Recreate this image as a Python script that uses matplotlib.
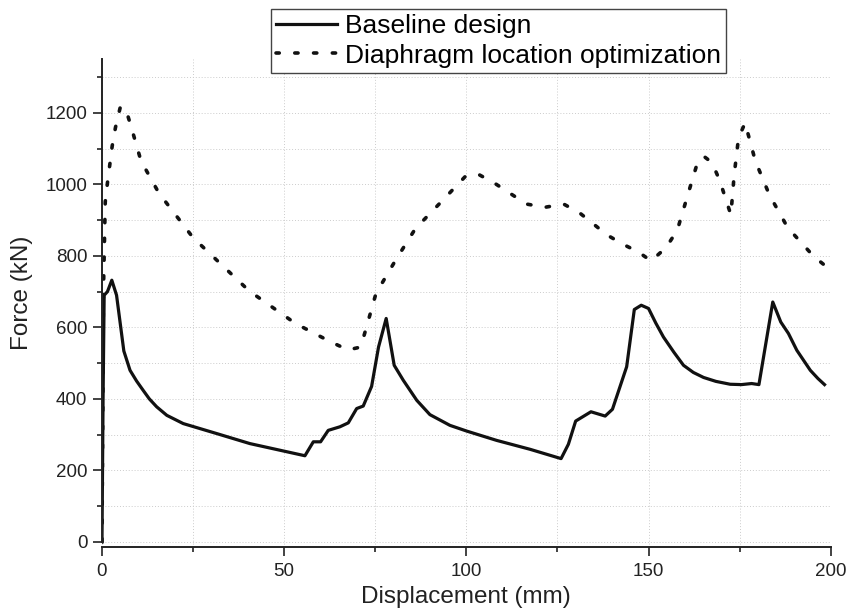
import matplotlib
matplotlib.use("Agg")
import matplotlib.pyplot as plt
from matplotlib.ticker import MultipleLocator

plt.rcParams['font.family'] = ['Liberation Sans', 'DejaVu Sans']

# Baseline design (solid)
base_x = [0, 0.3, 0.6, 1.5, 2.7, 4.0, 6.0, 7.7, 9.5, 11.3, 13.0, 15.0, 17.8, 22.3, 31.5, 40.6,
          55.7, 58.0, 60.0, 62.1, 65.3, 67.6, 69.9, 71.7, 74.0, 75.9, 78.0, 80.2,
          82.7, 86.4, 90.0, 95.5, 100.1, 108.3, 117.5, 126.0, 128.0, 130.0, 134.2,
          138.1, 140.1, 144.0, 146.1, 148.0, 150.0, 152.0, 154.1, 157.0, 159.6, 162.3,
          165.1, 168.5, 172.4, 175.5, 178.3, 180.3, 184.1, 186.3, 188.4, 190.7,
          194.4, 196.5, 198.3]
base_y = [0, 400, 690, 700, 732, 690, 534, 480, 450, 424, 400, 378, 354, 331, 303, 275,
          241, 280, 280, 312, 322, 333, 373, 380, 435, 545, 625, 494,
          452, 396, 356, 326, 310, 284, 259, 233, 273, 338, 364,
          352, 371, 490, 650, 662, 653, 612, 573, 530, 494, 474,
          460, 449, 441, 440, 443, 440, 671, 615, 583, 536,
          480, 457, 440]

# Diaphragm location optimization (dotted)
opt_x = [0, 0.4, 0.6, 0.9, 1.5, 2.8, 3.7, 5.0, 6.4, 7.9, 10.7, 15.6, 25.0, 40.4,
         53.1, 62.3, 67.5, 71.0, 72.4, 75.2, 80.7, 86.0, 92.8, 99.6, 103.0, 108.1,
         116.5, 121.6, 126.7, 131.0, 138.7, 143.1, 147.2, 150.7, 154.8, 157.9,
         160.9, 163.7, 165.5, 167.4, 169.5, 172.6, 173.5, 174.7, 176.5, 179.3,
         183.2, 188.2, 195.3, 200.0]
opt_y = [0, 700, 800, 951, 1004, 1107, 1159, 1215, 1215, 1165, 1066, 976, 851, 702,
         611, 562, 537, 545, 594, 695, 790, 876, 948, 1021, 1030, 1001,
         945, 936, 945, 921, 858, 832, 811, 786, 823, 872,
         975, 1070, 1076, 1061, 1012, 915, 1026, 1130, 1172, 1066,
         970, 879, 799, 760]

fig = plt.figure(figsize=(8.62, 6.11), dpi=100)
ax = fig.add_axes([0.1183, 0.1043, 0.8454, 0.7987])

ax.plot(base_x, base_y, color='#111111', lw=2.3, label='Baseline design')
ax.plot(opt_x, opt_y, color='#111111', lw=2.6, linestyle=(0, (0.9, 4.3)),
        dash_capstyle='round', label='Diaphragm location optimization')

ax.set_xlim(0, 200)
ax.set_ylim(-15, 1350)
ax.xaxis.set_major_locator(MultipleLocator(50))
ax.xaxis.set_minor_locator(MultipleLocator(25))
ax.yaxis.set_major_locator(MultipleLocator(200))
ax.yaxis.set_minor_locator(MultipleLocator(100))
ax.set_yticks([0, 200, 400, 600, 800, 1000, 1200])

ax.spines['top'].set_visible(False)
ax.spines['right'].set_visible(False)
ax.spines['left'].set_bounds(0, 1350)
for s in ('left', 'bottom'):
    ax.spines[s].set_linewidth(1.4)
    ax.spines[s].set_color('#222222')

ax.tick_params(which='major', direction='out', length=6.5, width=1.2,
               labelsize=13.5, colors='#222222', pad=4)
ax.tick_params(axis='x', which='major', pad=5)
ax.tick_params(which='minor', direction='out', length=3.5, width=1.2, colors='#222222')

ax.grid(True, which='both', color='#cccccc', linestyle=(0, (1, 2)), lw=0.7)
ax.set_axisbelow(True)

ax.set_xlabel('Displacement (mm)', fontsize=17.5, color='#222222')
ax.set_ylabel('Force (kN)', fontsize=17.5, color='#222222')
ax.xaxis.set_label_coords(0.5, -0.08)
ax.yaxis.set_label_coords(-0.094, 0.521)

leg = fig.legend(loc='upper left', bbox_to_anchor=(0.314, 0.985), fontsize=19,
                 fancybox=False, framealpha=1, edgecolor='#444444',
                 handlelength=2.3, handletextpad=0.3, borderpad=0.2,
                 labelspacing=0.2, borderaxespad=0)
leg.get_frame().set_linewidth(1.0)

fig.savefig('out.png', dpi=100)
